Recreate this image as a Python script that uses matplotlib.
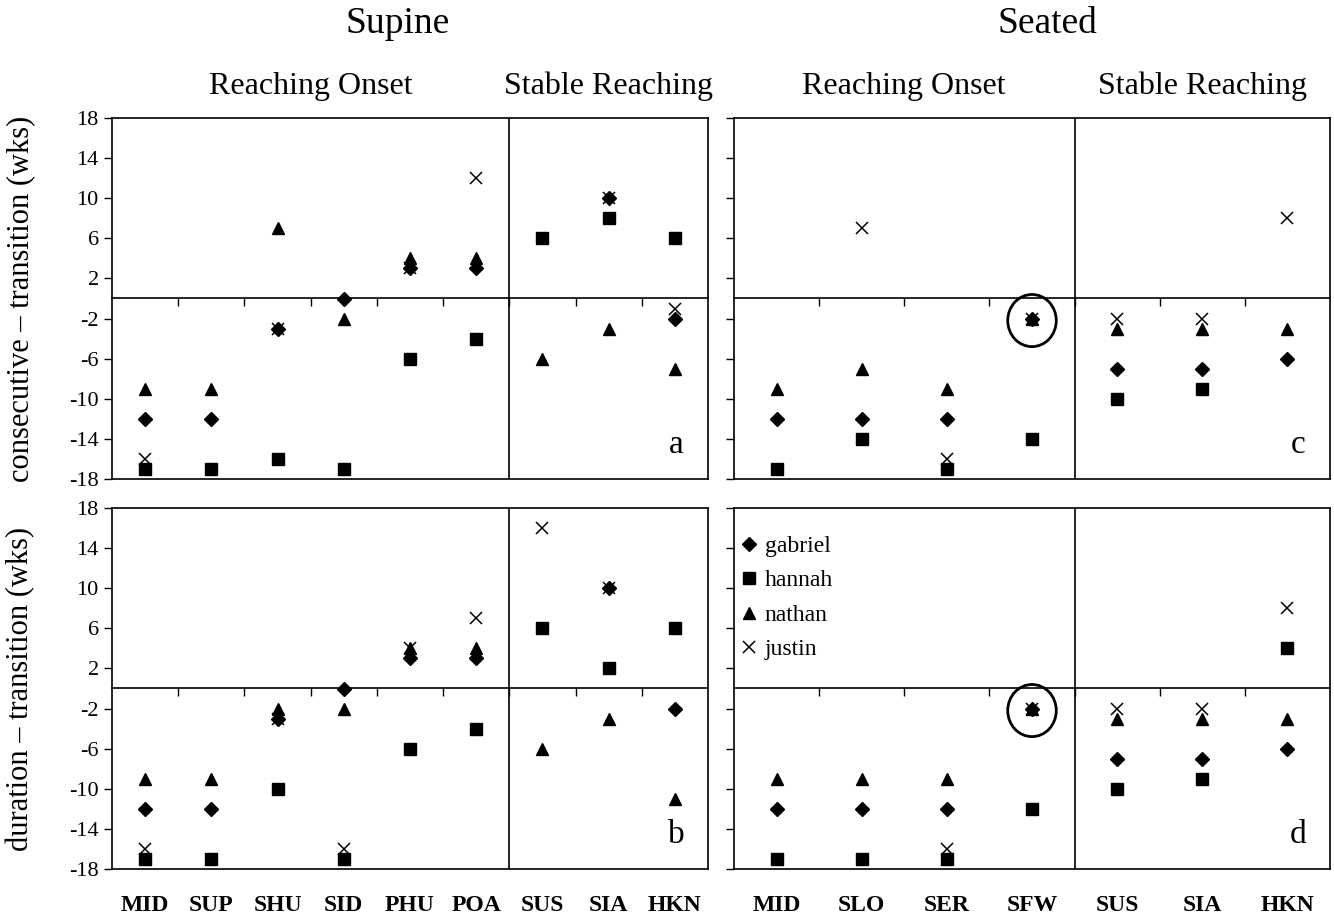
import numpy as np
import matplotlib
matplotlib.use('Agg')
import matplotlib.pyplot as plt
from matplotlib.patches import Ellipse

plt.rcParams['font.family'] = ['Liberation Serif', 'DejaVu Serif']
plt.rcParams['axes.unicode_minus'] = False

nan = np.nan
supine_cats = ['MID', 'SUP', 'SHU', 'SID', 'PHU', 'POA', 'SUS', 'SIA', 'HKN']
seated_cats = ['MID', 'SLO', 'SER', 'SFW', 'SUS', 'SIA', 'HKN']
names = ['gabriel', 'hannah', 'nathan', 'justin']

# a: supine, consecutive - transition
a_gabriel = [-12, -12, -3, 0, 3, 3, nan, 10, -2]
a_hannah = [-17, -17, -16, -17, -6, -4, 6, 8, 6]
a_nathan = [-9, -9, 7, -2, 4, 4, -6, -3, -7]
a_justin = [-16, nan, -3, nan, 3, 12, nan, 10, -1]

# b: supine, duration - transition
b_gabriel = [-12, -12, -3, 0, 3, 3, nan, 10, -2]
b_hannah = [-17, -17, -10, -17, -6, -4, 6, 2, 6]
b_nathan = [-9, -9, -2, -2, 4, 4, -6, -3, -11]
b_justin = [-16, nan, -3, -16, 4, 7, 16, 10, nan]

# c: seated, consecutive - transition
c_gabriel = [-12, -12, -12, -2, -7, -7, -6]
c_hannah = [-17, -14, -17, -14, -10, -9, nan]
c_nathan = [-9, -7, -9, -2, -3, -3, -3]
c_justin = [nan, 7, -16, -2, -2, -2, 8]

# d: seated, duration - transition
d_gabriel = [-12, -12, -12, -2, -7, -7, -6]
d_hannah = [-17, -17, -17, -12, -10, -9, 4]
d_nathan = [-9, -9, -9, -2, -3, -3, -3]
d_justin = [nan, nan, -16, -2, -2, -2, 8]

yticks = [18, 14, 10, 6, 2, -2, -6, -10, -14, -18]

W, H = 1334, 919
fig = plt.figure(figsize=(W / 100, H / 100), dpi=100)


def panel(rect, cats, series, n_onset, letter, left_labels, bottom_labels):
    ax = fig.add_axes(rect)
    x = np.arange(1, len(cats) + 1)
    styles = [dict(marker='D', ms=7.5), dict(marker='s', ms=8.5),
              dict(marker='^', ms=9), dict(marker='x', ms=8, mew=1.1)]
    for vals, st, nm in zip(series, styles, names):
        ax.plot(x, vals, linestyle='none', color='black', label=nm, **st)
    ax.set_xlim(0.5, len(cats) + 0.5)
    ax.set_ylim(-18, 18)
    ax.set_yticks(yticks)
    ax.tick_params(axis='y', direction='out', length=6, width=1, labelsize=16,
                   labelleft=left_labels)
    ax.set_xticks(x)
    ax.set_xticklabels(cats if bottom_labels else [], fontsize=17, fontweight='bold')
    ax.tick_params(axis='x', length=0, pad=19)
    for s in ax.spines.values():
        s.set_linewidth(1.2)
    ax.axvline(n_onset + 0.5, color='black', lw=1.2)
    # zero line with category boundary ticks
    sec = ax.secondary_xaxis(0.5)
    sec.set_xticks(np.arange(1.5, len(cats), 1.0))
    sec.tick_params(direction='in', length=6, width=1, labeltop=False, labelbottom=False)
    for s in sec.spines.values():
        s.set_linewidth(1.2)
    ax.text(0.947, 0.095, letter, transform=ax.transAxes, fontsize=24,
            ha='center', va='center')
    return ax


lw_ = 596 / W
hh = 361 / H
top_b = (H - 479) / H
bot_b = (H - 869) / H
lx = 112 / W
rx = 734 / W

ax_a = panel([lx, top_b, lw_, hh], supine_cats,
             [a_gabriel, a_hannah, a_nathan, a_justin], 6, 'a', True, False)
ax_b = panel([lx, bot_b, lw_, hh], supine_cats,
             [b_gabriel, b_hannah, b_nathan, b_justin], 6, 'b', True, True)
ax_c = panel([rx, top_b, lw_, hh], seated_cats,
             [c_gabriel, c_hannah, c_nathan, c_justin], 4, 'c', False, False)
ax_d = panel([rx, bot_b, lw_, hh], seated_cats,
             [d_gabriel, d_hannah, d_nathan, d_justin], 4, 'd', False, True)

ax_a.set_ylabel('consecutive \u2013 transition (wks)', fontsize=22)
ax_b.set_ylabel('duration \u2013 transition (wks)', fontsize=22)
for ax in (ax_a, ax_b):
    ax.yaxis.set_label_coords(-0.128, 0.5)

# circled overlapping points at SFW
for ax in (ax_c, ax_d):
    ax.add_patch(Ellipse((4, -2.2), 0.57, 5.2, fill=False, lw=2, color='black'))

# section headers
for ax, onset_mid, stable_mid in ((ax_a, 3.5, 8.0), (ax_c, 2.5, 6.0)):
    tr = ax.get_xaxis_transform()
    ax.text(onset_mid, 1.087, 'Reaching Onset', transform=tr, ha='center',
            va='center', fontsize=23)
    ax.text(stable_mid, 1.087, 'Stable Reaching', transform=tr, ha='center',
            va='center', fontsize=23)

fig.text(398 / W, 1 - 24 / H, 'Supine', ha='center', va='center', fontsize=27)
fig.text(1047 / W, 1 - 24 / H, 'Seated', ha='center', va='center', fontsize=27)

ax_d.legend(loc='upper left', bbox_to_anchor=(-0.018, 0.97), frameon=False,
            fontsize=17, handlelength=0.8, handletextpad=0.25, labelspacing=0.55,
            borderaxespad=0.3)

fig.savefig('out.png', dpi=100)
